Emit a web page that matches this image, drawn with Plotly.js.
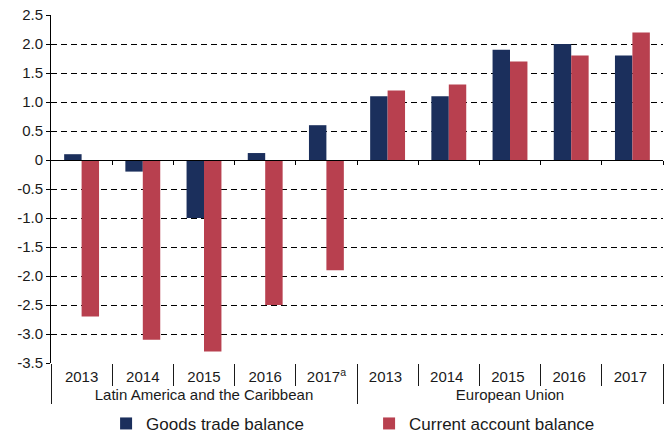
<!DOCTYPE html>
<html>
<head>
<meta charset="utf-8">
<script src="https://cdn.plot.ly/plotly-3.0.1.min.js"></script>
<style>html,body{margin:0;padding:0;background:#fff;}#chart{width:665px;height:434px;}</style>
</head>
<body>
<div id="chart"></div>
<script>
const groups = ["Latin America and the Caribbean","Latin America and the Caribbean","Latin America and the Caribbean","Latin America and the Caribbean","Latin America and the Caribbean","European Union","European Union","European Union","European Union","European Union"];
const years = ["2013","2014","2015","2016","2017<sup>a</sup>","2013 ","2014 ","2015 ","2016 ","2017 "];
const goodsTrade = [0.1, -0.2, -1.0, 0.12, 0.6, 1.1, 1.1, 1.9, 2.0, 1.8];
const currentAccount = [-2.7, -3.1, -3.3, -2.5, -1.9, 1.2, 1.3, 1.7, 1.8, 2.2];
const yTickVals = [2.5, 2.0, 1.5, 1.0, 0.5, 0, -0.5, -1.0, -1.5, -2.0, -2.5, -3.0, -3.5];
const yTickText = ["2.5","2.0","1.5","1.0","0.5","0","-0.5","-1.0","-1.5","-2.0","-2.5","-3.0","-3.5"];
const boundaryTicks = [0.5,1.5,2.5,3.5,4.5,5.5,6.5,7.5,8.5,9.5];

const navy = "#1B2F5C", red = "#B8404F", ink = "#1a1a1a";
const font = "Liberation Sans, Arial, sans-serif";

const data = [
  {type:"bar", name:"Goods trade balance", x:[groups, years], y:goodsTrade,
   marker:{color:navy}},
  {type:"bar", name:"Current account balance", x:[groups, years], y:currentAccount,
   marker:{color:red}},
  {type:"scatter", mode:"markers", x:[], y:[], xaxis:"x2", showlegend:false, hoverinfo:"skip"}
];

const layout = {
  width:665, height:434,
  margin:{l:51, r:2, t:15, b:71, autoexpand:false},
  paper_bgcolor:"#fff", plot_bgcolor:"#fff",
  font:{family:font, color:ink, size:14},
  barmode:"group", bargap:0.43, bargroupgap:0,
  showlegend:true,
  legend:{orientation:"h", x:0.09, xanchor:"left", y:-0.175, yanchor:"middle",
          font:{size:17, color:ink}, entrywidth:218, entrywidthmode:"pixels",
          bgcolor:"rgba(0,0,0,0)"},
  xaxis:{type:"multicategory", showgrid:false, showline:false, zeroline:false,
         ticks:"outside", tickson:"boundaries", ticklen:22, tickcolor:ink, tickwidth:1,
         showdividers:true, dividercolor:ink, dividerwidth:1, ticklabelstandoff:3,
         tickfont:{size:15, color:ink}},
  xaxis2:{type:"linear", overlaying:"x", anchor:"free", position:3.5/6,
          range:[-0.5, 9.5], showgrid:false, zeroline:false, showline:true,
          linecolor:"#000", linewidth:1.3, ticks:"outside", ticklen:4, tickcolor:"#000",
          tickvals:boundaryTicks, showticklabels:false, fixedrange:true},
  yaxis:{range:[-3.5, 2.5], tickvals:yTickVals, ticktext:yTickText,
         showgrid:true, gridcolor:"#000", griddash:"6px,4px", gridwidth:1,
         zeroline:false, showline:true, linecolor:"#000", linewidth:1,
         ticks:"outside", ticklen:4, tickcolor:"#000",
         tickfont:{size:15, color:ink}}
};

Plotly.newPlot("chart", data, layout, {staticPlot:true, displayModeBar:false});
</script>
</body>
</html>
